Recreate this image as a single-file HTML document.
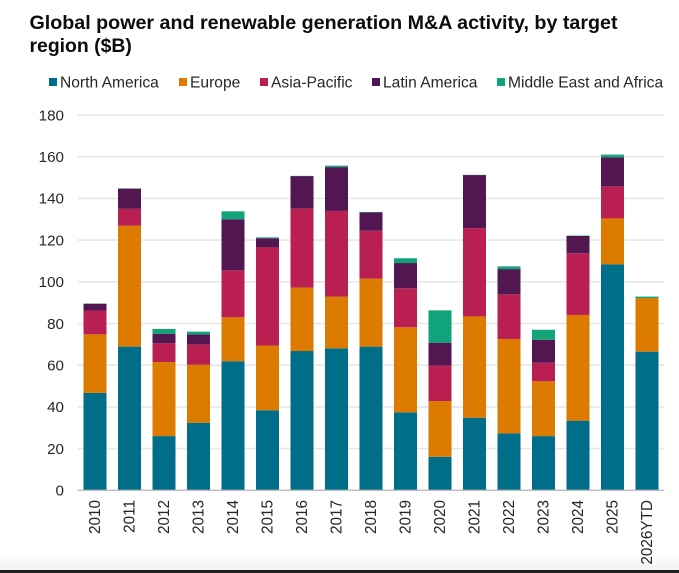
<!DOCTYPE html>
<html lang="en">
<head>
<meta charset="utf-8">
<title>Global power and renewable generation M&amp;A activity</title>
<style>
  html,body{margin:0;padding:0;background:#fff;}
  body{width:679px;height:573px;overflow:hidden;position:relative;font-family:"Liberation Sans",sans-serif;}
  svg{position:absolute;left:0;top:0;filter:blur(0.35px);}
  #bottom-fade{position:absolute;left:0;top:556px;width:679px;height:14px;background:linear-gradient(#ffffff,#f1f1f1);}
  #bottom-bar{position:absolute;left:0;top:570px;width:679px;height:3px;background:#202020;}
</style>
</head>
<body>
<div id="bottom-fade"></div>
<div id="bottom-bar"></div>
<svg id="chart" width="679" height="573" viewBox="0 0 679 573" xmlns="http://www.w3.org/2000/svg">
  <g font-family="Liberation Sans, sans-serif" font-weight="700" font-size="19.4" fill="#0c0c0c">
    <text x="29.5" y="29" textLength="588" lengthAdjust="spacingAndGlyphs">Global power and renewable generation M&amp;A activity, by target</text>
    <text x="29.5" y="52">region ($B)</text>
  </g>
  <g id="grid"></g>
  <g id="bars"></g>
  <g id="axes"></g>
  <g id="legend"></g>
</svg>
<script>
const categories = ["2010","2011","2012","2013","2014","2015","2016","2017","2018","2019","2020","2021","2022","2023","2024","2025","2026YTD"];
const northAmerica = [46.7,68.9,26,32.4,61.9,38.4,66.8,68.1,68.9,37.4,16.1,34.8,27.3,26,33.4,108.4,66.5];
const europe = [28.1,58,35.5,27.8,21.1,31,30.4,24.8,32.6,40.8,26.7,48.6,45.3,26.3,50.7,22,25.7];
const asiaPacific = [11.4,8.1,9,9.8,22.5,47.1,38,41.1,23,18.7,17,42.3,21.4,8.9,29.6,15.4,0];
const latinAmerica = [3.3,9.7,4.6,4.8,24.5,4.4,15.5,21,8.8,12.1,11,25.5,12.1,11,8.3,13.9,0];
const middleEastAfrica = [0.1,0.1,2.3,1.3,3.8,0.4,0.1,0.7,0.2,2.3,15.5,0.1,1.3,4.8,0.2,1.3,0.7];
const yTicks = [0,20,40,60,80,100,120,140,160,180];
const seriesNames = ["North America","Europe","Asia-Pacific","Latin America","Middle East and Africa"];
const seriesValues = [northAmerica,europe,asiaPacific,latinAmerica,middleEastAfrica];
const seriesColors = ["#006d89","#dd7a00","#b92051","#521651","#11a37a"];

const NS = "http://www.w3.org/2000/svg";
const plotLeft = 77.75, plotRight = 664.25, plotTop = 115, plotBottom = 490.3;
const yMax = 180;
const barWidth = 23;
const textColor = "#262626";
function yScale(v){ return plotBottom - (v / yMax) * (plotBottom - plotTop); }
function xCenter(i){ return plotLeft + (i + 0.5) * (plotRight - plotLeft) / categories.length; }
function slug(s){ return s.toLowerCase().replace(/[^a-z0-9]+/g, "-"); }
function make(tag, attrs){
  const el = document.createElementNS(NS, tag);
  for (const k in attrs) el.setAttribute(k, attrs[k]);
  return el;
}

const gridG = document.getElementById("grid");
yTicks.forEach(function(t){
  if (t !== 0) {
    const line = make("line", {x1: plotLeft, x2: plotRight, y1: yScale(t), y2: yScale(t), stroke: "#e7e7e7", "stroke-width": 1.6});
    
    
    gridG.appendChild(line);
  }
});

const barsG = document.getElementById("bars");
categories.forEach(function(cat, i){
  const group = make("g", {});
  
  
  let cumulative = 0;
  seriesValues.forEach(function(values, s){
    const v = values[i];
    const y0 = yScale(cumulative);
    const y1 = yScale(cumulative + v);
    cumulative += v;
    if (v <= 0) return;
    const rect = make("rect", {x: xCenter(i) - barWidth / 2, y: y1, width: barWidth, height: y0 - y1, fill: seriesColors[s]});
    
    
    group.appendChild(rect);
  });
  barsG.appendChild(group);
});

const axesG = document.getElementById("axes");
const baseline = make("line", {x1: plotLeft, x2: plotRight, y1: plotBottom, y2: plotBottom, stroke: "#bdbdbd", "stroke-width": 1.4});


axesG.appendChild(baseline);

yTicks.forEach(function(t){
  const label = make("text", {x: 64, y: yScale(t) + 5.3, "text-anchor": "end", "font-size": 15.2, "font-family": "Liberation Sans, sans-serif", fill: textColor});
  label.textContent = String(t);
  
  
  axesG.appendChild(label);
});

categories.forEach(function(cat, i){
  const cx = xCenter(i) + 5.2;
  const label = make("text", {x: cx, y: 500, "text-anchor": "end", "font-size": 15.3, "font-family": "Liberation Sans, sans-serif", fill: textColor, transform: "rotate(-90 " + cx + " 500)"});
  label.textContent = cat;
  
  
  axesG.appendChild(label);
});

const legendG = document.getElementById("legend");
const legendStarts = [49, 179, 260, 372, 497];
seriesNames.forEach(function(name, s){
  const entry = make("g", {});
  
  
  const swatch = make("rect", {x: legendStarts[s], y: 78, width: 8, height: 8, fill: seriesColors[s]});
  
  
  entry.appendChild(swatch);
  const label = make("text", {x: legendStarts[s] + 11, y: 87.7, "font-size": 15.6, "font-family": "Liberation Sans, sans-serif", fill: textColor});
  label.textContent = name;
  
  
  entry.appendChild(label);
  legendG.appendChild(entry);
});
</script>
</body>
</html>
